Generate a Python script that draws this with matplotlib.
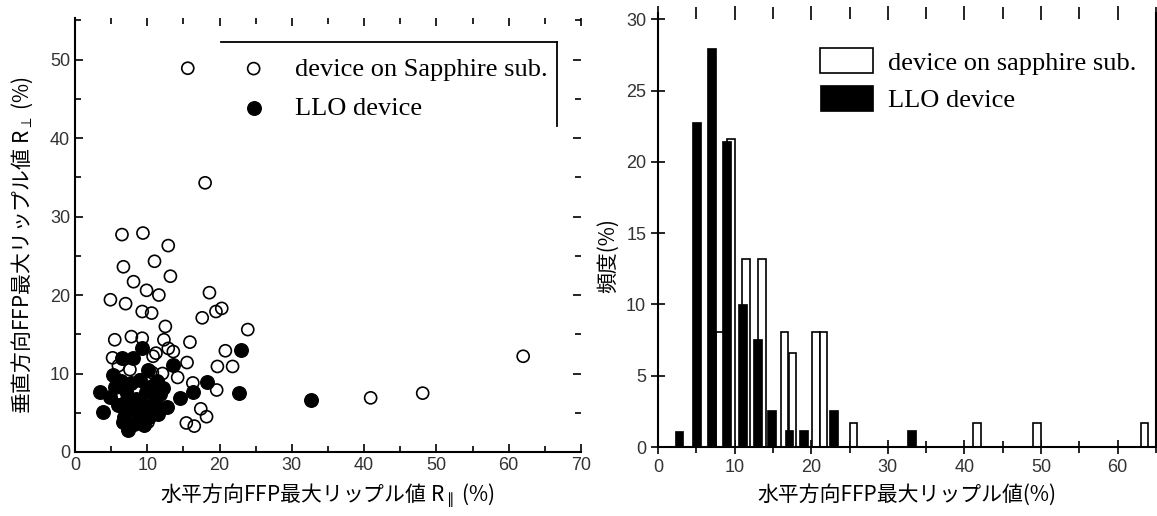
import matplotlib
matplotlib.use('Agg')
import matplotlib.pyplot as plt
from matplotlib.ticker import MultipleLocator

# scatter: vertical vs horizontal FFP ripple (%)
sap_x = [15.6, 18.0, 6.5, 9.4, 12.9, 11.0, 6.7, 13.2, 8.1, 9.9, 11.6, 4.9, 7.0, 18.6, 9.3,
         10.6, 17.6, 19.5, 20.3, 12.5, 23.9, 5.5, 7.8, 9.3, 12.3, 15.9, 12.9, 13.6, 20.8, 5.2,
         10.8, 15.5, 19.7, 21.8, 12.1, 16.3, 19.6, 40.9, 48.1, 62.0, 17.4, 18.2, 15.4, 16.5,
         10.1, 10.7, 9.0, 6.0, 7.6, 8.6, 11.2, 14.2]
sap_y = [48.9, 34.3, 27.7, 27.9, 26.3, 24.3, 23.6, 22.4, 21.7, 20.6, 20.0, 19.4, 18.9, 20.3, 17.9,
         17.7, 17.1, 17.9, 18.3, 16.0, 15.6, 14.3, 14.7, 14.5, 14.3, 14.0, 13.2, 12.8, 12.9, 12.0,
         12.2, 11.4, 10.9, 10.9, 10.0, 8.8, 7.9, 6.9, 7.5, 12.2, 5.5, 4.5, 3.7, 3.3,
         3.8, 10.1, 9.2, 11.0, 10.5, 8.0, 12.6, 9.5]
llo_x = [32.7, 22.7, 23.0, 18.3, 16.3, 14.5, 13.5, 9.2, 6.5, 8.0, 10.1, 5.2, 3.4, 3.9, 7.3, 12.7,
         4.8, 5.5, 6.0, 6.3, 6.8, 7.0, 7.5, 7.8, 8.2, 8.5, 8.8, 9.0, 9.4, 9.8, 10.2, 10.6, 11.0,
         11.4, 11.8, 12.2, 6.6, 8.4, 10.4, 11.5, 7.2, 9.6]
llo_y = [6.6, 7.5, 13.0, 8.9, 7.7, 6.9, 11.1, 13.3, 12.0, 12.0, 10.5, 9.8, 7.7, 5.1, 2.8, 5.7,
         7.0, 8.3, 6.0, 9.0, 4.5, 7.8, 5.5, 8.8, 3.6, 6.8, 4.8, 9.2, 6.0, 7.6, 4.4, 8.4, 6.4,
         9.0, 7.4, 8.2, 3.8, 5.2, 5.8, 4.9, 6.8, 3.4]

# histogram: frequency (%) vs horizontal ripple
llo_bin = [2.75, 5.0, 7.0, 8.9, 11.0, 12.95, 14.85, 17.1, 19.0, 22.95, 33.05]
llo_pct = [1.1, 22.8, 28.0, 21.5, 10.0, 7.6, 2.6, 1.2, 1.2, 2.6, 1.2]
sap_bin = [8.1, 9.5, 11.45, 13.6, 16.5, 17.55, 20.6, 21.6, 25.5, 41.6, 49.5, 63.5]
sap_pct = [8.1, 21.6, 13.2, 13.2, 8.1, 6.6, 8.1, 8.1, 1.7, 1.7, 1.7, 1.7]

jp = ['Noto Sans CJK JP', 'DejaVu Sans']
W, H = 1157, 516

fig = plt.figure(figsize=(W / 100, H / 100), dpi=100)
ax1 = fig.add_axes([75 / W, 64 / H, 506 / W, 434 / H])
ax2 = fig.add_axes([658 / W, 69 / H, 498 / W, 434 / H])

# ---- left: scatter
ax1.scatter(sap_x, sap_y, s=75, facecolors='none', edgecolors='black', linewidths=1.2,
            label='device on Sapphire sub.', zorder=2)
ax1.scatter(llo_x, llo_y, s=95, color='black', label='LLO device', zorder=3)
ax1.set_xlim(0, 70)
ax1.set_ylim(0, 55.3)
ax1.xaxis.set_major_locator(MultipleLocator(10))
ax1.xaxis.set_minor_locator(MultipleLocator(5))
ax1.yaxis.set_major_locator(MultipleLocator(10))
ax1.yaxis.set_minor_locator(MultipleLocator(5))
ax1.tick_params(which='both', direction='in', top=True, right=True, width=1.2)
ax1.tick_params(which='major', length=6)
ax1.tick_params(which='minor', length=4)
ax1.spines['top'].set_visible(False)
ax1.spines['right'].set_visible(False)
for s in ['left', 'bottom']:
    ax1.spines[s].set_linewidth(1.5)
ax1.set_xlabel('水平方向FFP最大リップル値 R$_{\\parallel}$ (%)', family=jp, fontsize=15, labelpad=6)
ax1.set_ylabel('垂直方向FFP最大リップル値 R$_{\\perp}$ (%)', family=jp, fontsize=15)
ax1.yaxis.set_label_coords(-0.08, 0.477)

ax1.legend(loc='upper left', bbox_to_anchor=(0.327, 0.91), frameon=False,
           prop={'family': 'Liberation Serif', 'size': 19}, handlelength=1.0,
           handletextpad=1.05, borderaxespad=0, borderpad=0, labelspacing=0.62)
# partial legend frame (top and right edges only, as in the scan)
ax1.plot([0.289, 0.953], [0.945, 0.945], color='black', lw=1.3, transform=ax1.transAxes, clip_on=False)
ax1.plot([0.953, 0.953], [0.945, 0.751], color='black', lw=1.3, transform=ax1.transAxes, clip_on=False)

# ---- right: histogram
ax2.bar(sap_bin, sap_pct, width=1.0, facecolor='white', edgecolor='black', linewidth=1.2,
        label='device on sapphire sub.', zorder=2)
ax2.bar(llo_bin, llo_pct, width=1.15, color='black', edgecolor='black', linewidth=0.5,
        label='LLO device', zorder=3)
ax2.set_xlim(0, 65)
ax2.set_ylim(0, 30.45)
ax2.xaxis.set_major_locator(MultipleLocator(10))
ax2.xaxis.set_minor_locator(MultipleLocator(5))
ax2.yaxis.set_major_locator(MultipleLocator(5))
ax2.tick_params(which='both', direction='inout', width=1.2)
ax2.tick_params(which='major', length=10)
ax2.tick_params(which='minor', length=8)
ax2.tick_params(which='both', axis='x', top=True)
ax2.spines['top'].set_visible(False)
for s in ['left', 'bottom', 'right']:
    ax2.spines[s].set_linewidth(1.5)
ax2.set_xlabel('水平方向FFP最大リップル値(%)', family=jp, fontsize=15, labelpad=6)
ax2.set_ylabel('頻度(%)', family=jp, fontsize=15)
ax2.yaxis.set_label_coords(-0.078, 0.442)

ax2.legend(loc='upper left', bbox_to_anchor=(0.326, 0.919), frameon=False,
           prop={'family': 'Liberation Serif', 'size': 19}, handlelength=2.0,
           handleheight=1.1, handletextpad=0.55, borderaxespad=0, borderpad=0,
           labelspacing=0.4)

for ax in (ax1, ax2):
    for lab in ax.get_xticklabels() + ax.get_yticklabels():
        lab.set_family('Liberation Sans')
        lab.set_fontsize(13)
        lab.set_color('#333333')

fig.savefig('out.png', dpi=100)
